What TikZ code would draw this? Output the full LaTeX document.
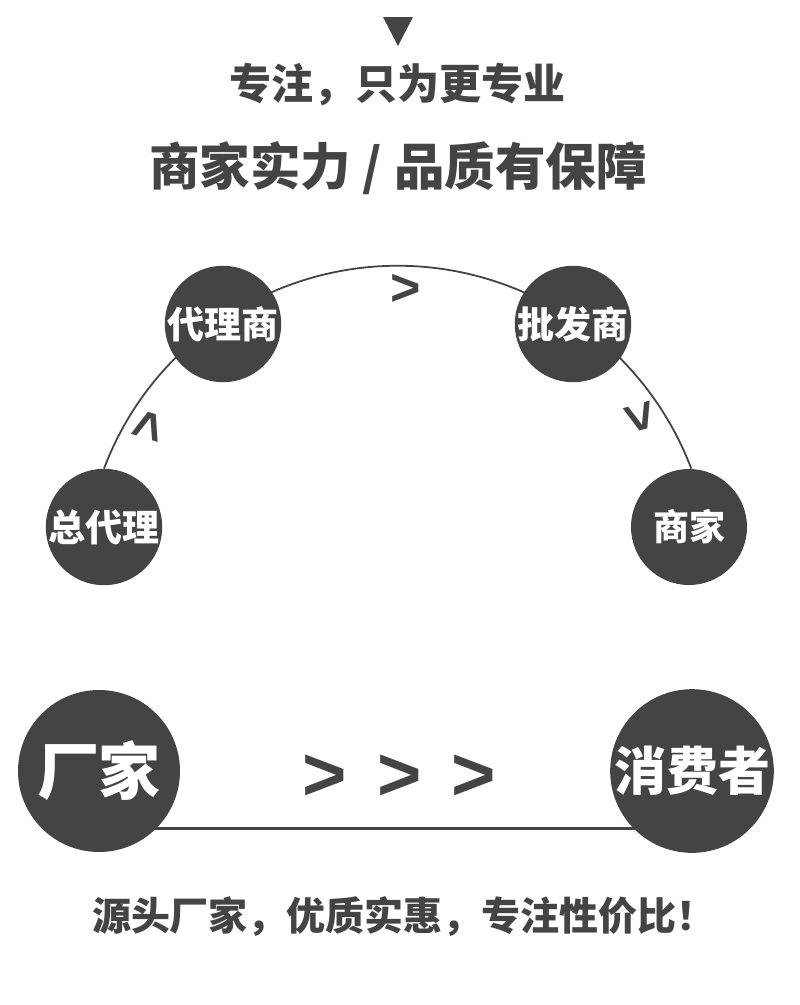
\documentclass[tikz,border=0pt]{standalone}
\usepackage{fontspec}
\newfontfamily\cjk{Noto Sans CJK SC}
\newfontfamily\latinb{Liberation Sans}
\usetikzlibrary{backgrounds}
\definecolor{dk}{HTML}{444444}
\tikzset{
  bub/.style={circle, fill=dk, inner sep=0pt, minimum size=116pt, text=white,
    font=\cjk\bfseries\fontsize{37}{37}\selectfont},
  bigbub/.style={bub, minimum size=162pt},
  ttl/.style={text=dk, inner sep=0pt},
  chev/.style={text=dk, inner sep=0pt, font=\latinb\bfseries\fontsize{52}{52}\selectfont},
  bigchev/.style={chev, font=\latinb\bfseries\fontsize{76}{76}\selectfont},
  arcline/.style={draw=dk, line width=1.8pt},
  botline/.style={draw=dk, line width=3pt}
}
\begin{document}
\begin{tikzpicture}[x=1pt,y=-1pt]
\useasboundingbox (0,0) rectangle (800,1005);
% top marker
\fill[dk] (383,17) -- (413,17) -- (398,46) -- cycle;
% titles
\node[ttl, font=\cjk\bfseries\fontsize{42}{42}\selectfont] (t1) at (397,85) {专注，只为更专业};
\node[ttl, font=\cjk\bfseries\fontsize{50.5}{50.5}\selectfont] (t2) at (398,168) {商家实力 / 品质有保障};
% arc circles
\node[bub] (zdl) at (104,527) {总代理};
\node[bub] (dls) at (223,324) {代理商};
\node[bub] (pfs) at (573,324) {批发商};
\node[bub, font=\cjk\bfseries\fontsize{36}{36}\selectfont] (sj) at (689,527) {商家};
\begin{pgfonlayer}{background}
\draw[arcline] (zdl.north) arc[start angle=200.75, end angle=339.25, radius=314];
\end{pgfonlayer}
% chevrons on arc
\node[chev, rotate=73] (c1) at (150,426) {>};
\node[chev] (c2) at (406,290) {>};
\node[chev, rotate=-74] (c3) at (639,418) {>};
% bottom
\node[bigbub, font=\cjk\bfseries\fontsize{62}{62}\selectfont] (cj) at (99,771) {厂家};
\node[bigbub, font=\cjk\bfseries\fontsize{52}{52}\selectfont] (xfz) at (692,771) {消费者};
\begin{pgfonlayer}{background}
\draw[botline] ([yshift=-57pt]cj.center) -- ([yshift=-57pt]xfz.center);
\end{pgfonlayer}
\node[bigchev] (b1) at (325,778) {>};
\node[bigchev] (b2) at (400,778) {>};
\node[bigchev] (b3) at (474,778) {>};
\node[ttl, font=\cjk\bfseries\fontsize{39}{39}\selectfont] (t3) at (404,917) {源头厂家，优质实惠，专注性价比！};
\end{tikzpicture}
\end{document}
